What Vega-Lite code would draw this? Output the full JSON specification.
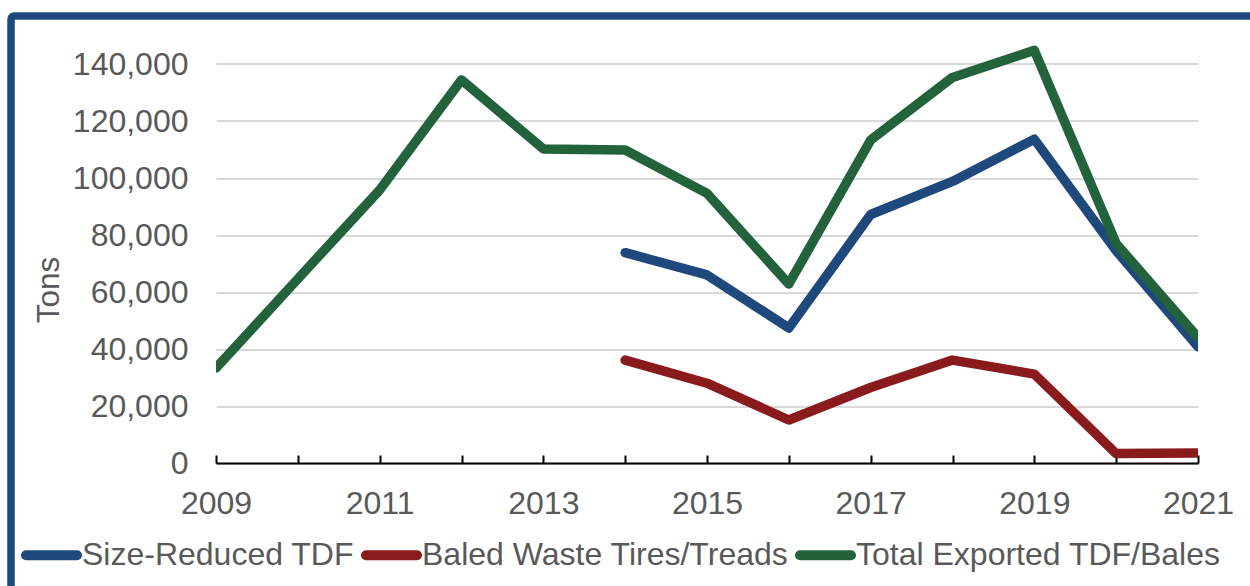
{
  "$schema": "https://vega.github.io/schema/vega-lite/v6.json",
  "width": 982,
  "height": 427.5,
  "autosize": {"type": "none"},
  "padding": {"left": 216, "top": 35.5, "right": 52, "bottom": 123},
  "background": "white",
  "config": {"font": "Liberation Sans", "view": {"stroke": null}},
  "layer": [
    {
      "data": {"values": [{"frame": 1}]},
      "mark": {"type": "rect", "fill": "transparent", "stroke": "#1F497D", "strokeWidth": 7.5, "cornerRadius": 3, "clip": false},
      "encoding": {
        "x": {"value": -205},
        "x2": {"value": 1100},
        "y": {"value": -19.5},
        "y2": {"value": 700}
      }
    },
    {
      "data": {
        "values": [
          {"series": "Size-Reduced TDF", "year": 2014, "tons": 73800},
          {"series": "Size-Reduced TDF", "year": 2015, "tons": 66000},
          {"series": "Size-Reduced TDF", "year": 2016, "tons": 47400},
          {"series": "Size-Reduced TDF", "year": 2017, "tons": 87200},
          {"series": "Size-Reduced TDF", "year": 2018, "tons": 98800},
          {"series": "Size-Reduced TDF", "year": 2019, "tons": 113600},
          {"series": "Size-Reduced TDF", "year": 2020, "tons": 74500},
          {"series": "Size-Reduced TDF", "year": 2021, "tons": 40800},
          {"series": "Baled Waste Tires/Treads", "year": 2014, "tons": 36100},
          {"series": "Baled Waste Tires/Treads", "year": 2015, "tons": 28000},
          {"series": "Baled Waste Tires/Treads", "year": 2016, "tons": 15100},
          {"series": "Baled Waste Tires/Treads", "year": 2017, "tons": 26500},
          {"series": "Baled Waste Tires/Treads", "year": 2018, "tons": 36100},
          {"series": "Baled Waste Tires/Treads", "year": 2019, "tons": 31200},
          {"series": "Baled Waste Tires/Treads", "year": 2020, "tons": 3300},
          {"series": "Baled Waste Tires/Treads", "year": 2021, "tons": 3500},
          {"series": "Total Exported TDF/Bales", "year": 2009, "tons": 33300},
          {"series": "Total Exported TDF/Bales", "year": 2010, "tons": 64600},
          {"series": "Total Exported TDF/Bales", "year": 2011, "tons": 95800},
          {"series": "Total Exported TDF/Bales", "year": 2012, "tons": 134400},
          {"series": "Total Exported TDF/Bales", "year": 2013, "tons": 110200},
          {"series": "Total Exported TDF/Bales", "year": 2014, "tons": 109800},
          {"series": "Total Exported TDF/Bales", "year": 2015, "tons": 94600},
          {"series": "Total Exported TDF/Bales", "year": 2016, "tons": 62800},
          {"series": "Total Exported TDF/Bales", "year": 2017, "tons": 113300},
          {"series": "Total Exported TDF/Bales", "year": 2018, "tons": 135300},
          {"series": "Total Exported TDF/Bales", "year": 2019, "tons": 144800},
          {"series": "Total Exported TDF/Bales", "year": 2020, "tons": 77000},
          {"series": "Total Exported TDF/Bales", "year": 2021, "tons": 44000}
        ]
      },
      "mark": {"type": "line", "strokeWidth": 9.5, "strokeCap": "round", "strokeJoin": "round", "clip": true},
      "encoding": {
        "x": {
          "field": "year",
          "type": "quantitative",
          "scale": {"domain": [2009, 2021], "nice": false, "zero": false},
          "axis": {
            "title": null,
            "values": [2009, 2010, 2011, 2012, 2013, 2014, 2015, 2016, 2017, 2018, 2019, 2020, 2021],
            "format": "d",
            "labelExpr": "datum.value % 2 == 1 ? datum.label : ''",
            "grid": false,
            "domainColor": "#000000",
            "domainWidth": 2,
            "tickColor": "#000000",
            "tickWidth": 2,
            "tickSize": -8,
            "labelPadding": 33,
            "labelFontSize": 32,
            "labelColor": "#595959",
            "labelOverlap": false,
            "labelFlush": false
          }
        },
        "y": {
          "field": "tons",
          "type": "quantitative",
          "scale": {"domain": [0, 150000], "nice": false},
          "axis": {
            "title": "Tons",
            "values": [0, 20000, 40000, 60000, 80000, 100000, 120000, 140000],
            "format": ",d",
            "domain": false,
            "ticks": false,
            "gridColor": "#D9D9D9",
            "gridWidth": 2,
            "labelPadding": 28,
            "labelFontSize": 32,
            "labelColor": "#595959",
            "titleFontSize": 31.5,
            "titleFontWeight": "normal",
            "titleColor": "#595959",
            "titleAngle": -90,
            "titleBaseline": "middle",
            "titleAlign": "center",
            "titleX": -167,
            "titleY": 254
          }
        },
        "color": {
          "field": "series",
          "type": "nominal",
          "scale": {
            "domain": ["Size-Reduced TDF", "Baled Waste Tires/Treads", "Total Exported TDF/Bales"],
            "range": ["#1F497D", "#8A1B1C", "#22633C"]
          },
          "legend": {
            "title": null,
            "orient": "none",
            "direction": "horizontal",
            "legendX": -195,
            "legendY": 489,
            "symbolType": "stroke",
            "symbolSize": 2601,
            "symbolStrokeWidth": 10,
            "labelFontSize": 32,
            "labelColor": "#595959",
            "labelOffset": 0,
            "columnPadding": -9,
            "labelLimit": 600,
            "padding": 0,
            "encode": {"symbols": {"update": {"strokeCap": {"value": "round"}}}}
          }
        }
      }
    }
  ]
}
